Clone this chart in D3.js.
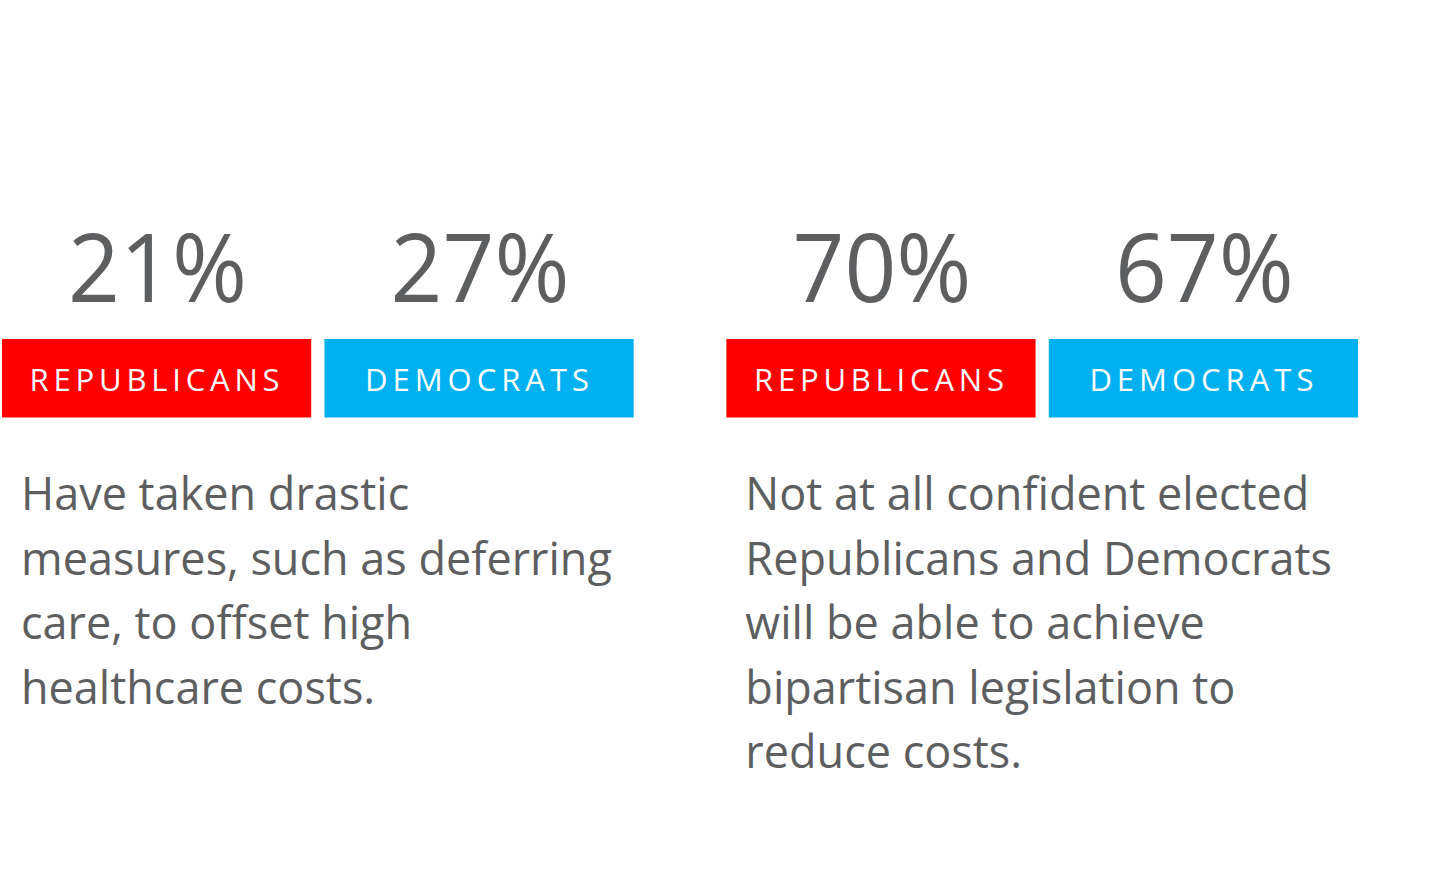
<!DOCTYPE html>
<html>
<head>
<meta charset="utf-8">
<script src="https://cdn.jsdelivr.net/npm/d3@7"></script>
<style>
  html, body { margin: 0; padding: 0; background: #ffffff; }
  svg { display: block; }
</style>
</head>
<body>
<svg id="chart" width="1435" height="885"></svg>
<script>
// ---- data ----
const panels = ["drastic", "confidence"];
const parties = ["REPUBLICANS", "DEMOCRATS"];
const republicanValues = [21, 70];
const democratValues = [27, 67];
const descriptions = [
  ["Have taken drastic", "measures, such as deferring", "care, to offset high", "healthcare costs."],
  ["Not at all confident elected", "Republicans and Democrats", "will be able to achieve", "bipartisan legislation to", "reduce costs."]
];
const partyColors = ["#FF0000", "#00B0F0"];

// ---- layout ----
const W = 1435, H = 885;
const svg = d3.select("#chart");
const font = "'Open Sans', 'Noto Sans', sans-serif";
const grey = "#5d5e60";

const outer = d3.scaleBand().domain(panels).range([2, 1358]).paddingInner(0.128);
const inner = d3.scaleBand().domain(parties).range([0, outer.bandwidth()]).paddingInner(0.041);
const color = d3.scaleOrdinal().domain(parties).range(partyColors);
const fmt = d => d3.format("d")(d) + "%";

const boxTop = 339, boxH = 78.5;
const pctBaseline = 302;
const labelBaseline = 391;
const bodyBaseline = 510;
const lineStep = 64.5;

panels.forEach((p, i) => {
  const g = svg.append("g").attr("transform", `translate(${outer(p)},0)`);
  const vals = [republicanValues[i], democratValues[i]];
  const cells = g.selectAll("g.cell").data(parties.map((party, j) => ({party, value: vals[j]})))
    .join("g").attr("class", "cell")
    .attr("transform", d => `translate(${inner(d.party)},0)`);

  cells.append("rect")
    .attr("x", 0).attr("y", boxTop)
    .attr("width", inner.bandwidth()).attr("height", boxH)
    .attr("fill", d => color(d.party));

  cells.append("text")
    .attr("x", inner.bandwidth() / 2 + 1).attr("y", pctBaseline)
    .attr("text-anchor", "middle")
    .attr("font-family", font).attr("font-size", 95)
    .attr("font-weight", 500)
    .attr("fill", grey)
    .attr("textLength", 179).attr("lengthAdjust", "spacingAndGlyphs")
    .text(d => fmt(d.value));

  cells.append("text")
    .attr("x", inner.bandwidth() / 2 - 2).attr("y", labelBaseline)
    .attr("text-anchor", "middle")
    .attr("font-family", font).attr("font-size", 31)
    .attr("fill", "#ffffff")
    .attr("textLength", d => d.party === "REPUBLICANS" ? 250 : 224)
    .attr("lengthAdjust", "spacing")
    .text(d => d.party);

  const body = g.append("text")
    .attr("font-family", font).attr("font-size", 45)
    .attr("fill", grey);
  body.selectAll("tspan").data(descriptions[i]).join("tspan")
    .attr("x", 19)
    .attr("y", (d, k) => bodyBaseline + k * lineStep)
    .text(d => d);
});
</script>
</body>
</html>
